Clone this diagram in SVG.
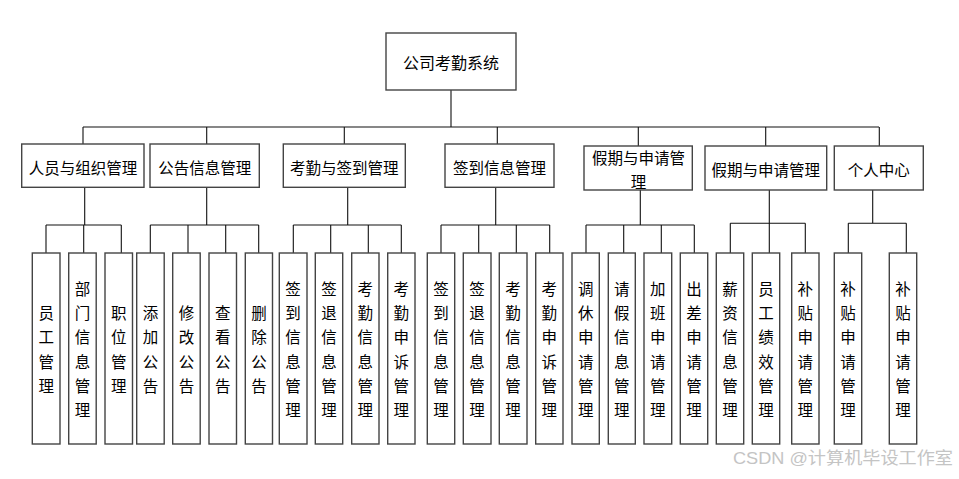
<svg xmlns="http://www.w3.org/2000/svg" width="959" height="479" viewBox="0 0 959 479">
<style>
rect.b{fill:#fff;stroke:#444;stroke-width:1.4}
text{font-family:"Noto Sans CJK SC","Noto Sans CJK JP",sans-serif;fill:#000;dominant-baseline:central;text-anchor:middle}
.t1{font-size:15.5px}
.t0{font-size:16px}
.v{font-size:15.5px}
.c path{stroke:#111;stroke-width:1.1;fill:none}
.wm{font-size:17px;fill:#c4c4c4;text-anchor:start;font-family:"Liberation Sans","Noto Sans CJK SC",sans-serif}
</style>
<rect width="959" height="479" fill="#fff"/>
<g class="c" id="connectors">
<path d="M451 90V127M83 127H879M83 127V144M206.7 127V144M344.3 127V144M497.3 127V144M638.3 127V146M765.7 127V146M879.3 127V146"/>
<path d="M84.7 187.3V225M46 225H121.3M46 225V253M83.7 225V253M121.3 225V253"/>
<path d="M206.7 187.3V225M150.3 225H258.7M150.3 225V253M188 225V253M225.7 225V253M258.7 225V253"/>
<path d="M347.7 187.3V225M293.3 225H401.3M293.3 225V253M330.7 225V253M368.3 225V253M401.3 225V253"/>
<path d="M495.7 187.3V225M441 225H549.7M441 225V253M478.7 225V253M516.3 225V253M549.7 225V253"/>
<path d="M640.3 190V225M586 225H694.3M586 225V253M623.7 225V253M661.3 225V253M694.3 225V253"/>
<path d="M769.3 190V223.3M730.3 223.3H805.3M730.3 223.3V253M769.3 223.3V253M805.3 223.3V253"/>
<path d="M872.7 190V223.3M848.3 223.3H906.3M848.3 223.3V253M906.3 223.3V253"/>
</g>
<g id="root"><rect class="b" x="386" y="33" width="130" height="57"/><text class="t0" x="451" y="61.5">公司考勤系统</text></g>
<g id="n1"><rect class="b" x="21.7" y="144" width="122.3" height="43.3"/><text class="t1" x="83" y="166.5">人员与组织管理</text></g>
<g id="n2"><rect class="b" x="150" y="144" width="109.3" height="43.3"/><text class="t1" x="204.7" y="166.5">公告信息管理</text></g>
<g id="n3"><rect class="b" x="283.3" y="144" width="122" height="43.3"/><text class="t1" x="344.3" y="166.5">考勤与签到管理</text></g>
<g id="n4"><rect class="b" x="445" y="144" width="109" height="43.3"/><text class="t1" x="499.5" y="166.5">签到信息管理</text></g>
<g id="n5"><rect class="b" x="584" y="146" width="108.3" height="44"/><text class="t1" x="638.5" y="157">假期与申请管</text><text class="t1" x="638.5" y="181">理</text></g>
<g id="n6"><rect class="b" x="705" y="146" width="121.7" height="44"/><text class="t1" x="765.8" y="168.5">假期与申请管理</text></g>
<g id="n7"><rect class="b" x="834.3" y="146" width="89" height="44"/><text class="t1" x="878.8" y="168.5">个人中心</text></g>

<g id="c1"><rect class="b" x="32.3" y="253" width="27.7" height="191"/><text class="v" x="46.2" y="312">员<tspan x="46.2" dy="24.3">工</tspan><tspan x="46.2" dy="24.3">管</tspan><tspan x="46.2" dy="24.3">理</tspan></text></g>
<g id="c2"><rect class="b" x="68.7" y="253" width="27.5" height="191"/><text class="v" x="82.4" y="287.8">部<tspan x="82.4" dy="24.3">门</tspan><tspan x="82.4" dy="24.3">信</tspan><tspan x="82.4" dy="24.3">息</tspan><tspan x="82.4" dy="24.3">管</tspan><tspan x="82.4" dy="24.3">理</tspan></text></g>
<g id="c3"><rect class="b" x="105" y="253" width="27.5" height="191"/><text class="v" x="118.7" y="312">职<tspan x="118.7" dy="24.3">位</tspan><tspan x="118.7" dy="24.3">管</tspan><tspan x="118.7" dy="24.3">理</tspan></text></g>

<g id="c4"><rect class="b" x="136.7" y="253" width="27.5" height="191"/><text class="v" x="150.5" y="312">添<tspan x="150.5" dy="24.3">加</tspan><tspan x="150.5" dy="24.3">公</tspan><tspan x="150.5" dy="24.3">告</tspan></text></g>
<g id="c5"><rect class="b" x="172.7" y="253" width="27.5" height="191"/><text class="v" x="186.4" y="312">修<tspan x="186.4" dy="24.3">改</tspan><tspan x="186.4" dy="24.3">公</tspan><tspan x="186.4" dy="24.3">告</tspan></text></g>
<g id="c6"><rect class="b" x="209" y="253" width="27.5" height="191"/><text class="v" x="222.7" y="312">查<tspan x="222.7" dy="24.3">看</tspan><tspan x="222.7" dy="24.3">公</tspan><tspan x="222.7" dy="24.3">告</tspan></text></g>
<g id="c7"><rect class="b" x="245.3" y="253" width="27.2" height="191"/><text class="v" x="258.9" y="312">删<tspan x="258.9" dy="24.3">除</tspan><tspan x="258.9" dy="24.3">公</tspan><tspan x="258.9" dy="24.3">告</tspan></text></g>

<g id="c8"><rect class="b" x="279.3" y="253" width="27.7" height="191"/><text class="v" x="293.1" y="287.8">签<tspan x="293.1" dy="24.3">到</tspan><tspan x="293.1" dy="24.3">信</tspan><tspan x="293.1" dy="24.3">息</tspan><tspan x="293.1" dy="24.3">管</tspan><tspan x="293.1" dy="24.3">理</tspan></text></g>
<g id="c9"><rect class="b" x="315.3" y="253" width="27.4" height="191"/><text class="v" x="329" y="287.8">签<tspan x="329" dy="24.3">退</tspan><tspan x="329" dy="24.3">信</tspan><tspan x="329" dy="24.3">息</tspan><tspan x="329" dy="24.3">管</tspan><tspan x="329" dy="24.3">理</tspan></text></g>
<g id="c10"><rect class="b" x="351.7" y="253" width="27.3" height="191"/><text class="v" x="365.3" y="287.8">考<tspan x="365.3" dy="24.3">勤</tspan><tspan x="365.3" dy="24.3">信</tspan><tspan x="365.3" dy="24.3">息</tspan><tspan x="365.3" dy="24.3">管</tspan><tspan x="365.3" dy="24.3">理</tspan></text></g>
<g id="c11"><rect class="b" x="387.7" y="253" width="27.3" height="191"/><text class="v" x="401.3" y="287.8">考<tspan x="401.3" dy="24.3">勤</tspan><tspan x="401.3" dy="24.3">申</tspan><tspan x="401.3" dy="24.3">诉</tspan><tspan x="401.3" dy="24.3">管</tspan><tspan x="401.3" dy="24.3">理</tspan></text></g>

<g id="c12"><rect class="b" x="427.3" y="253" width="27.4" height="191"/><text class="v" x="441" y="287.8">签<tspan x="441" dy="24.3">到</tspan><tspan x="441" dy="24.3">信</tspan><tspan x="441" dy="24.3">息</tspan><tspan x="441" dy="24.3">管</tspan><tspan x="441" dy="24.3">理</tspan></text></g>
<g id="c13"><rect class="b" x="463.3" y="253" width="27.7" height="191"/><text class="v" x="477.1" y="287.8">签<tspan x="477.1" dy="24.3">退</tspan><tspan x="477.1" dy="24.3">信</tspan><tspan x="477.1" dy="24.3">息</tspan><tspan x="477.1" dy="24.3">管</tspan><tspan x="477.1" dy="24.3">理</tspan></text></g>
<g id="c14"><rect class="b" x="499.3" y="253" width="27.7" height="191"/><text class="v" x="513.1" y="287.8">考<tspan x="513.1" dy="24.3">勤</tspan><tspan x="513.1" dy="24.3">信</tspan><tspan x="513.1" dy="24.3">息</tspan><tspan x="513.1" dy="24.3">管</tspan><tspan x="513.1" dy="24.3">理</tspan></text></g>
<g id="c15"><rect class="b" x="535.7" y="253" width="27.3" height="191"/><text class="v" x="549.3" y="287.8">考<tspan x="549.3" dy="24.3">勤</tspan><tspan x="549.3" dy="24.3">申</tspan><tspan x="549.3" dy="24.3">诉</tspan><tspan x="549.3" dy="24.3">管</tspan><tspan x="549.3" dy="24.3">理</tspan></text></g>

<g id="c16"><rect class="b" x="572" y="253" width="27.3" height="191"/><text class="v" x="585.7" y="287.8">调<tspan x="585.7" dy="24.3">休</tspan><tspan x="585.7" dy="24.3">申</tspan><tspan x="585.7" dy="24.3">请</tspan><tspan x="585.7" dy="24.3">管</tspan><tspan x="585.7" dy="24.3">理</tspan></text></g>
<g id="c17"><rect class="b" x="608.3" y="253" width="27" height="191"/><text class="v" x="621.8" y="287.8">请<tspan x="621.8" dy="24.3">假</tspan><tspan x="621.8" dy="24.3">信</tspan><tspan x="621.8" dy="24.3">息</tspan><tspan x="621.8" dy="24.3">管</tspan><tspan x="621.8" dy="24.3">理</tspan></text></g>
<g id="c18"><rect class="b" x="644" y="253" width="27.7" height="191"/><text class="v" x="657.8" y="287.8">加<tspan x="657.8" dy="24.3">班</tspan><tspan x="657.8" dy="24.3">申</tspan><tspan x="657.8" dy="24.3">请</tspan><tspan x="657.8" dy="24.3">管</tspan><tspan x="657.8" dy="24.3">理</tspan></text></g>
<g id="c19"><rect class="b" x="680.3" y="253" width="27.4" height="191"/><text class="v" x="694" y="287.8">出<tspan x="694" dy="24.3">差</tspan><tspan x="694" dy="24.3">申</tspan><tspan x="694" dy="24.3">请</tspan><tspan x="694" dy="24.3">管</tspan><tspan x="694" dy="24.3">理</tspan></text></g>

<g id="c20"><rect class="b" x="716.3" y="253" width="27.4" height="191"/><text class="v" x="730" y="287.8">薪<tspan x="730" dy="24.3">资</tspan><tspan x="730" dy="24.3">信</tspan><tspan x="730" dy="24.3">息</tspan><tspan x="730" dy="24.3">管</tspan><tspan x="730" dy="24.3">理</tspan></text></g>
<g id="c21"><rect class="b" x="752.3" y="253" width="27.4" height="191"/><text class="v" x="766" y="287.8">员<tspan x="766" dy="24.3">工</tspan><tspan x="766" dy="24.3">绩</tspan><tspan x="766" dy="24.3">效</tspan><tspan x="766" dy="24.3">管</tspan><tspan x="766" dy="24.3">理</tspan></text></g>
<g id="c22"><rect class="b" x="791.7" y="253" width="27.3" height="191"/><text class="v" x="805.3" y="287.8">补<tspan x="805.3" dy="24.3">贴</tspan><tspan x="805.3" dy="24.3">申</tspan><tspan x="805.3" dy="24.3">请</tspan><tspan x="805.3" dy="24.3">管</tspan><tspan x="805.3" dy="24.3">理</tspan></text></g>

<g id="c23"><rect class="b" x="834.3" y="253" width="27.4" height="191"/><text class="v" x="848" y="287.8">补<tspan x="848" dy="24.3">贴</tspan><tspan x="848" dy="24.3">申</tspan><tspan x="848" dy="24.3">请</tspan><tspan x="848" dy="24.3">管</tspan><tspan x="848" dy="24.3">理</tspan></text></g>
<g id="c24"><rect class="b" x="889.3" y="253" width="27.4" height="191"/><text class="v" x="903" y="287.8">补<tspan x="903" dy="24.3">贴</tspan><tspan x="903" dy="24.3">申</tspan><tspan x="903" dy="24.3">请</tspan><tspan x="903" dy="24.3">管</tspan><tspan x="903" dy="24.3">理</tspan></text></g>

<text class="wm" x="733" y="458" textLength="220" lengthAdjust="spacingAndGlyphs">CSDN @计算机毕设工作室</text>
</svg>
